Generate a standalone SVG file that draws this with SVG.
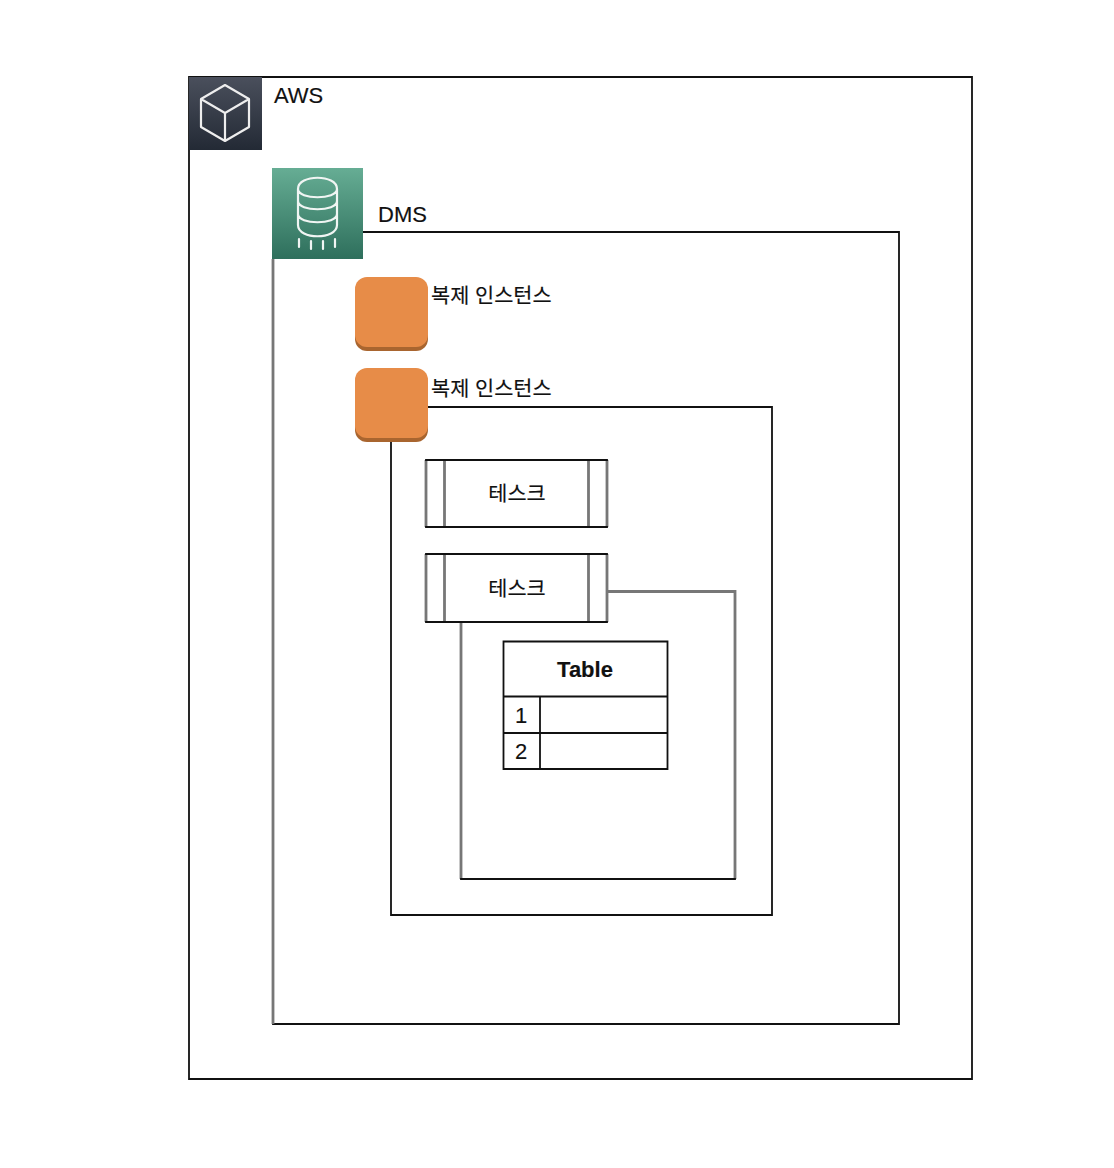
<svg xmlns="http://www.w3.org/2000/svg" width="1114" height="1168" viewBox="0 0 1114 1168">
<defs>
<linearGradient id="gd" x1="0" y1="0" x2="0" y2="1"><stop offset="0" stop-color="#4a4f5c"/><stop offset="1" stop-color="#232a35"/></linearGradient>
<linearGradient id="gg" x1="0" y1="0" x2="0" y2="1"><stop offset="0" stop-color="#66ad94"/><stop offset="1" stop-color="#2e6f5c"/></linearGradient>
</defs>
<style>
.k{fill:none;stroke:#111;stroke-width:1.8;stroke-linecap:square}
.g{fill:none;stroke:#777;stroke-width:2.8}
.w{fill:none;stroke:#eee;stroke-width:2.2;stroke-linejoin:round;stroke-linecap:round}
.w2{fill:none;stroke:#f0f5f3;stroke-width:2.2;stroke-linecap:round}
text{font-family:"Liberation Sans","Noto Sans CJK KR",sans-serif;font-size:22px;fill:#111;stroke:#111;stroke-width:.15}
.ko{font-size:20.800px}
.m{text-anchor:middle}
.b{font-weight:700}
</style>
<rect width="1114" height="1168" fill="#fff"/>
<g id="connectors">
<path class="k" d="M189 77H972V1079H189Z"/>
<path class="k" d="M363 232H899V1024H273"/><path class="g" d="M273 259V1024"/>
<path class="k" d="M428 407H772V915H391V441"/>
<path class="g" d="M608 591.500H735V879M461 622V879"/>
<path class="k" d="M735 879H461"/>
</g>
<g id="aws">
<rect x="189" y="77" width="73" height="73" fill="url(#gd)"/>
<path class="w" d="M225 85L249 99V127L225 141L201 127V99ZM201 99L225 113L249 99M225 113V141"/>
<text x="274" y="103">AWS</text>
</g>
<g id="dms">
<rect x="272" y="168" width="91" height="91" fill="url(#gg)"/>
<path class="w2" d="M298 189C298 174 337 174 337 189V225C337 240 298 240 298 225ZM298 189C298 200 337 200 337 189M298 201C298 212 337 212 337 201M298 214C298 225 337 225 337 214M299 239V247M311 241V249M323 241V249M335 239V247"/>
<text x="378" y="222">DMS</text>
</g>
<g id="instance1">
<rect x="355" y="281" width="73" height="70" rx="12" fill="#a9652f"/>
<rect x="355" y="277" width="73" height="70" rx="12" fill="#e78c48"/>
<text class="ko" x="431" y="303">복제 인스턴스</text>
</g>
<g id="instance2">
<rect x="355" y="372" width="73" height="70" rx="12" fill="#a9652f"/>
<rect x="355" y="368" width="73" height="70" rx="12" fill="#e78c48"/>
<text class="ko" x="431" y="396">복제 인스턴스</text>
</g>
<g id="task1">
<path class="g" d="M426 460V527M444.500 460V527M588.500 460V527M607 460V527"/>
<path class="k" d="M426 460H607M426 527H607"/>
<text class="m ko" x="517" y="501">테스크</text>
</g>
<g id="task2">
<path class="g" d="M426 554V622M444.500 554V622M588.500 554V622M607 554V622"/>
<path class="k" d="M426 554H607M426 622H607"/>
<text class="m ko" x="517" y="596">테스크</text>
</g>
<g id="table">
<path class="k" d="M503.500 641.500H667.500V769H503.500ZM503.500 696.500H667.500M503.500 733H667.500M540 696.500V769"/>
<text class="m b" x="585" y="677">Table</text>
<text class="m" x="521" y="723">1</text>
<text class="m" x="521" y="759">2</text>
</g>
</svg>
